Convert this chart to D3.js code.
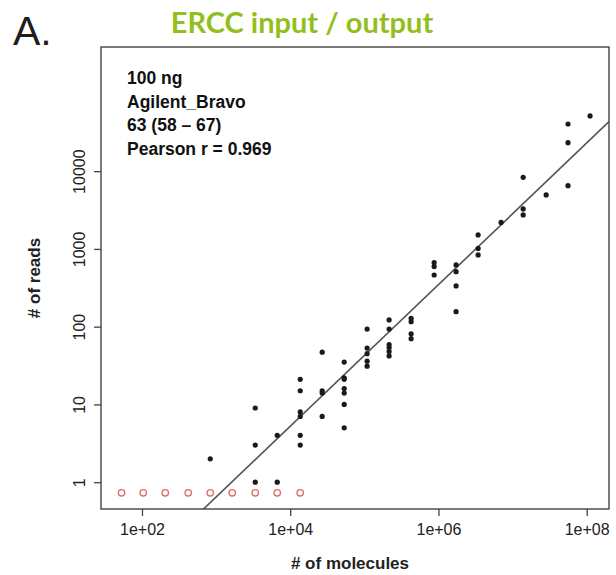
<!DOCTYPE html>
<html>
<head>
<meta charset="utf-8">
<script src="https://cdn.jsdelivr.net/npm/d3@7"></script>
<style>
  body { margin: 0; background: #fff; }
  svg text { font-family: "Liberation Sans", Arial, sans-serif; }
</style>
</head>
<body>
<div id="viz"></div>
<script>
// ERCC spike-ins: molecules put in vs reads counted (one column per spike-in level)
var molecules = [834, 3375, 6680, 13650, 27000, 53500, 109000, 216000, 428000,
                 875000, 1730000, 3430000, 7000000, 13900000, 28400000, 56000000, 111000000],
    reads = [
        [2],
        [9, 3, 1],
        [4, 1],
        [21, 15, 8, 7, 4, 3],
        [47, 15, 14, 7],
        [35, 22, 21, 16, 14, 10, 5],
        [93, 53, 45, 36, 31],
        [122, 93, 59, 54, 48, 42],
        [128, 116, 81, 70],
        [666, 592, 462],
        [622, 510, 334, 156],
        [1513, 1014, 836],
        [2188],
        [8340, 3265, 2735],
        [4940],
        [40400, 23270, 6500],
        [51300]
    ],
    // spike-ins with zero reads, drawn below 1
    missedMolecules = [53, 104, 206, 421, 834, 1650, 3375, 6680, 13650],
    missedLevel = 0.73,

    fitSlope = 0.9106,
    fitIntercept = -2.923,

    xTicks = [1e2, 1e4, 1e6, 1e8],
    yTicks = [1, 10, 100, 1000, 10000],
    notes = ['100 ng', 'Agilent_Bravo', '63 (58 \u2013 67)', 'Pearson r = 0.969'];

var points = [];
molecules.forEach(function (m, i) {
    reads[i].forEach(function (r) { points.push({x: m, y: r}); });
});

var svg = d3.select('#viz')
        .append('svg')
            .attr('width', 616)
            .attr('height', 575),

    boxLeft = 101, boxRight = 609, boxTop = 47, boxBottom = 509,

    x = d3.scaleLog().domain([28, 2.0e8]).range([boxLeft, boxRight]),
    y = d3.scaleLog().domain([0.452, 3.95e5]).range([boxBottom, boxTop]);

// panel letter and title
svg.append('text')
    .attr('x', 13).attr('y', 45)
    .style('font-size', '41px')
    .style('fill', '#1e1e1e')
    .text('A.');

svg.append('text')
    .attr('x', 302).attr('y', 33)
    .attr('text-anchor', 'middle')
    .style('font-family', 'Lato, "Open Sans", sans-serif')
    .style('font-weight', 'bold')
    .style('font-size', '29px')
    .style('fill', '#92bf1e')
    .text('ERCC input / output');

// axes, R style
var fmtSci = function (d) {
    var e = Math.round(Math.log10(d));
    return '1e+' + (e < 10 ? '0' : '') + e;
};

var xAxis = svg.append('g')
    .attr('transform', 'translate(0,' + boxBottom + ')')
    .call(d3.axisBottom(x).tickValues(xTicks).tickFormat(fmtSci).tickSize(7).tickPadding(8));

var yAxis = svg.append('g')
    .attr('transform', 'translate(' + boxLeft + ',0)')
    .call(d3.axisLeft(y).tickValues(yTicks).tickFormat(d3.format('d')).tickSize(7).tickPadding(8));

[xAxis, yAxis].forEach(function (g) {
    g.select('.domain').remove();
    g.selectAll('line').attr('stroke', '#444').attr('stroke-width', 1.3);
    g.selectAll('text')
        .style('font-family', '"Liberation Sans", Arial, sans-serif')
        .style('font-size', '16px')
        .style('fill', '#222');
});

yAxis.selectAll('text')
    .attr('x', null).attr('dy', null)
    .attr('text-anchor', 'middle')
    .attr('transform', 'translate(-16,0) rotate(-90)');

// regression line, clipped to the box
svg.append('clipPath').attr('id', 'box')
    .append('rect')
        .attr('x', boxLeft).attr('y', boxTop)
        .attr('width', boxRight - boxLeft).attr('height', boxBottom - boxTop);

var fit = function (m) { return Math.pow(10, fitIntercept + fitSlope * Math.log10(m)); };

svg.append('line')
    .attr('clip-path', 'url(#box)')
    .attr('x1', x(x.domain()[0])).attr('y1', y(fit(x.domain()[0])))
    .attr('x2', x(x.domain()[1])).attr('y2', y(fit(x.domain()[1])))
    .style('stroke', '#555')
    .style('stroke-width', 1.6);

// points
svg.append('g').attr('class', 'missed')
    .selectAll('circle')
    .data(missedMolecules)
    .enter().append('circle')
        .attr('cx', function (d) { return x(d); })
        .attr('cy', y(missedLevel))
        .attr('r', 3.2)
        .style('fill', 'none')
        .style('stroke', '#de6e6e')
        .style('stroke-width', 1.4);

svg.append('g').attr('class', 'dots')
    .selectAll('circle')
    .data(points)
    .enter().append('circle')
        .attr('cx', function (d) { return x(d.x); })
        .attr('cy', function (d) { return y(d.y); })
        .attr('r', 2.6)
        .style('fill', '#1a1a1a');

// box
svg.append('rect')
    .attr('x', boxLeft).attr('y', boxTop)
    .attr('width', boxRight - boxLeft).attr('height', boxBottom - boxTop)
    .style('fill', 'none')
    .style('stroke', '#444')
    .style('stroke-width', 1.4);

// notes in the corner
svg.append('g').selectAll('text')
    .data(notes)
    .enter().append('text')
        .attr('x', 127)
        .attr('y', function (d, i) { return 84 + i * 23.5; })
        .style('font-size', '17.5px')
        .style('font-weight', 'bold')
        .style('fill', '#111')
        .text(function (d) { return d; });

// axis titles
svg.append('text')
    .attr('x', 350).attr('y', 569)
    .attr('text-anchor', 'middle')
    .style('font-size', '17px')
    .style('font-weight', 'bold')
    .style('fill', '#222')
    .text('# of molecules');

svg.append('text')
    .attr('transform', 'translate(40,' + (boxTop + boxBottom) / 2 + ') rotate(-90)')
    .attr('text-anchor', 'middle')
    .style('font-size', '17px')
    .style('font-weight', 'bold')
    .style('fill', '#222')
    .text('# of reads');
</script>
</body>
</html>
